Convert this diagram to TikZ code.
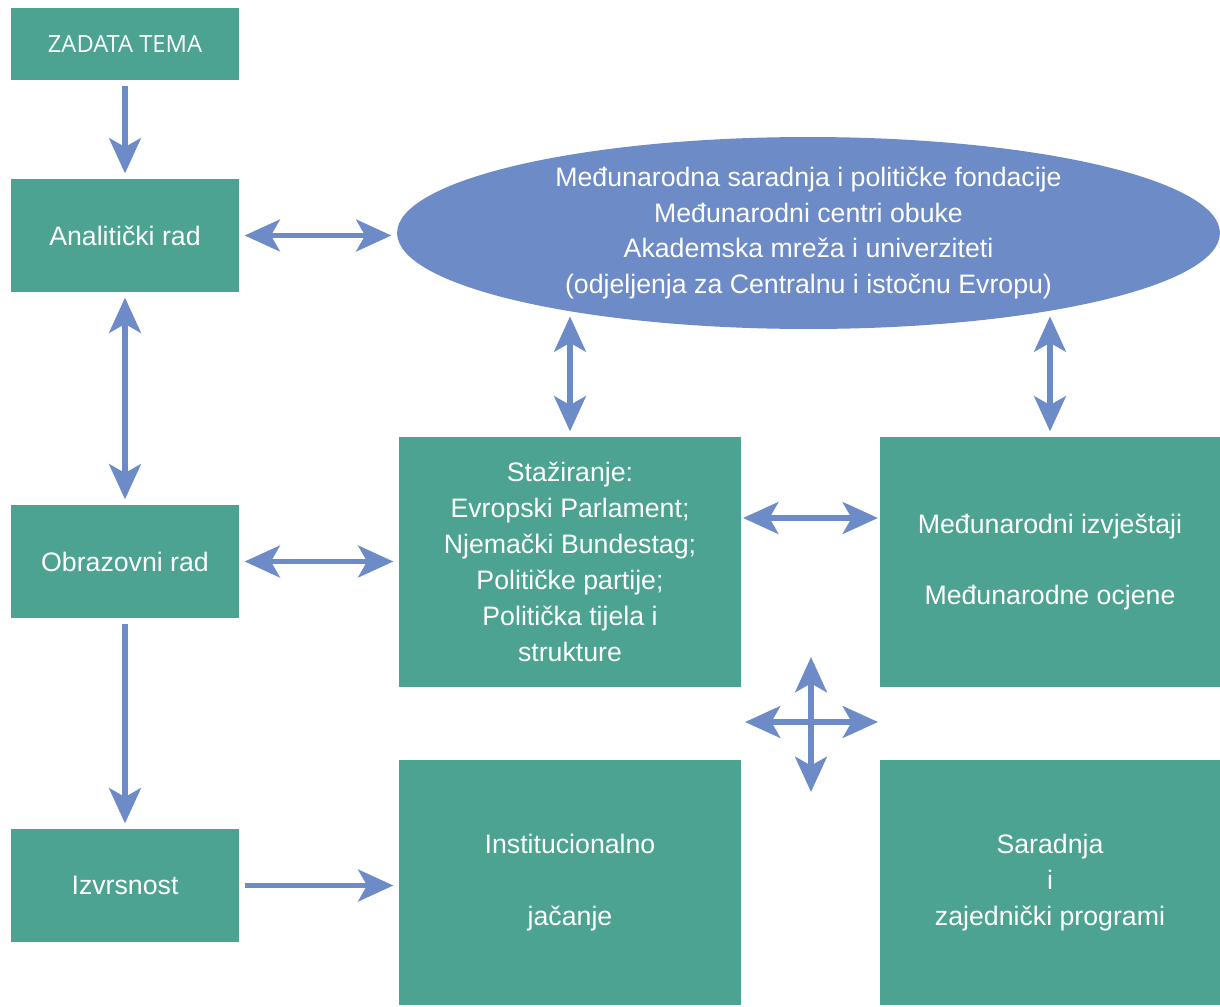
\documentclass[tikz,border=0pt]{standalone}
\usepackage{fontspec}
\setmainfont{Liberation Sans}
\newfontfamily\titlefont{Open Sans}
\usepackage{tikz}
\usetikzlibrary{shapes, arrows.meta, positioning, calc}
\definecolor{boxteal}{RGB}{76, 163, 146}
\definecolor{linkblue}{RGB}{108, 139, 199}

\tikzset{
  tealbox/.style={fill=boxteal, text=white, align=center, inner sep=0pt,
    font=\fontsize{15.2}{20.5}\selectfont},
  sidebox/.style={tealbox, minimum width=4.56cm, minimum height=2.26cm},
  bigbox/.style={tealbox, minimum width=6.84cm},
  link/.style={draw=linkblue, line width=3.4pt,
    -{Stealth[length=20pt, width=18pt, inset=5pt]}, shorten >=3pt, shorten <=3pt},
  dbllink/.style={link, {Stealth[length=20pt, width=18pt, inset=5pt]}-{Stealth[length=20pt, width=18pt, inset=5pt]}}
}

\begin{document}
\begin{tikzpicture}[x=0.02cm, y=-0.02cm]
  \useasboundingbox (0,0) rectangle (1220,1007);

  % Left column
  \node[sidebox, minimum height=1.44cm, font=\titlefont\fontsize{13.5}{16}\selectfont] (zad) at (125,44) {ZADATA TEMA};
  \node[sidebox] (ana) at (125,235.5) {Analitički rad};
  \node[sidebox] (obr) at (125,561.5) {Obrazovni rad};
  \node[sidebox] (izv) at (125,885.5) {Izvrsnost};

  % International cooperation
  \node[ellipse, fill=linkblue, text=white, align=center, inner sep=0pt,
    minimum width=16.46cm, minimum height=3.84cm,
    font=\fontsize{15.2}{20.2}\selectfont] (ell) at (808.5,233) {
    Međunarodna saradnja i političke fondacije\\
    Međunarodni centri obuke\\
    Akademska mreža i univerziteti\\
    (odjeljenja za Centralnu i istočnu Evropu)
  };

  % Right blocks
  \node[bigbox, minimum height=5cm] (stz) at (570,562) {
    Stažiranje:\\
    Evropski Parlament;\\
    Njemački Bundestag;\\
    Političke partije;\\
    Politička tijela i\\
    strukture
  };
  \node[bigbox, minimum width=6.8cm, minimum height=5cm] (mdj) at (1050,562) {
    Međunarodni izvještaji\\[20.2pt]
    Međunarodne ocjene
  };
  \node[bigbox, minimum height=4.9cm] (ins) at (570,882.5) {
    Institucionalno\\[20.2pt]
    jačanje
  };
  \node[bigbox, minimum width=6.8cm, minimum height=4.9cm] (sar) at (1050,882.5) {
    Saradnja\\
    i\\
    zajednički programi
  };

  % Connectors
  \draw[link] (zad) -- (ana);
  \draw[dbllink] (ana) -- (obr);
  \draw[link] (obr) -- (izv);
  \draw[dbllink] (ana.east) -- (ana.east -| ell.west);
  \draw[dbllink] (obr.east) -- (obr.east -| stz.west);
  \draw[link] (izv.east) -- (izv.east -| ins.west);
  \draw[dbllink] (stz.north) -- (stz.north |- ell.198);
  \draw[dbllink] (mdj.north) -- (mdj.north |- ell.342);
  \draw[dbllink, shorten >=1pt, shorten <=1pt] ([yshift=0.88cm]stz.east) -- ([yshift=0.88cm]mdj.west);

  % Cross between the four blocks
  \coordinate (cross) at (811,722);
  \coordinate (crossl) at (745,722);
  \coordinate (crossr) at (878,722);
  \coordinate (crosst) at (811,657);
  \coordinate (crossb) at (811,792);
  \foreach \tip in {crossl, crossr, crosst, crossb}
    \draw[link, shorten >=0pt, shorten <=0pt] (cross) -- (\tip);
\end{tikzpicture}
\end{document}
